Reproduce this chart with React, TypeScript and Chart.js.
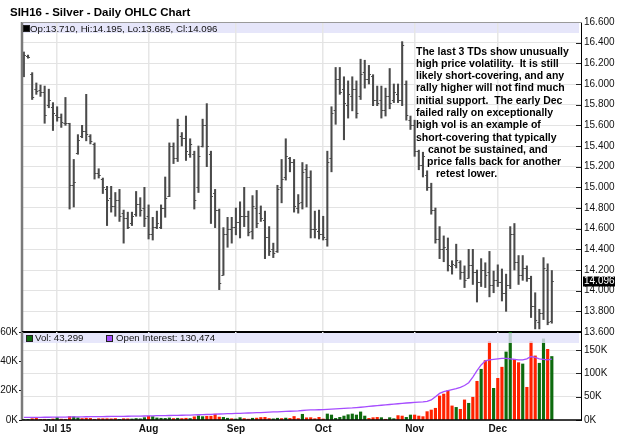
import React, { useEffect, useRef } from 'react';
import { Chart, registerables } from 'chart.js';

Chart.register(...registerables);

const FONT = 'Arial, "Liberation Sans", Helvetica, sans-serif';

// Daily OHLC, Jun 19 2015 .. Dec 18 2015 (trading-day index 0..127)
const highs = [
  16.31, 16.28, 16.11, 16.01, 15.99, 15.98, 15.95, 15.82, 15.78, 15.71,
  15.87, 15.62, 15.27, 15.51, 15.60, 15.90, 15.51, 15.43, 15.18, 15.09,
  15.01, 15.01, 14.95, 14.98, 14.78, 14.76, 14.76, 14.96, 14.90, 15.00,
  14.83, 14.71, 14.77, 14.83, 15.10, 15.43, 15.43, 15.66, 15.53, 15.69,
  15.47, 15.35, 15.40, 15.66, 15.81, 15.35, 14.98, 14.79, 14.61, 14.71,
  14.71, 14.80, 14.86, 15.00, 14.77, 14.92, 14.97, 14.82, 14.77, 14.62,
  14.46, 15.02, 15.27, 15.47, 15.29, 15.27, 14.93, 15.24, 15.22, 15.16,
  14.77, 14.78, 14.72, 15.35, 15.78, 16.16, 16.16, 16.07, 16.03, 16.07,
  16.03, 16.24, 16.23, 16.18, 16.09, 15.98, 15.98, 15.96, 16.15, 16.00,
  16.00, 16.41, 16.03, 15.69, 15.65, 15.36, 15.34, 15.16, 15.04, 14.80,
  14.62, 14.53, 14.51, 14.29, 14.45, 14.29, 14.24, 14.40, 14.40, 14.20,
  14.31, 14.27, 14.38, 14.19, 14.25, 14.21, 14.16, 14.62, 14.65, 14.34,
  14.34, 14.24, 14.14, 13.98, 13.82, 14.32, 14.26, 14.195,
];
const lows = [
  16.07, 16.25, 15.85, 15.90, 15.88, 15.62, 15.77, 15.55, 15.64, 15.58,
  15.60, 14.79, 14.81, 15.32, 15.48, 15.45, 15.42, 15.08, 15.09, 14.94,
  14.63, 14.76, 14.72, 14.67, 14.46, 14.60, 14.63, 14.72, 14.72, 14.62,
  14.50, 14.49, 14.60, 14.60, 14.71, 14.91, 15.23, 15.25, 15.40, 15.26,
  15.29, 14.79, 14.95, 15.39, 15.20, 14.65, 14.61, 14.01, 14.15, 14.42,
  14.46, 14.54, 14.51, 14.62, 14.53, 14.50, 14.61, 14.67, 14.31, 14.34,
  14.32, 14.37, 14.85, 15.07, 15.15, 14.76, 14.75, 14.79, 14.81, 14.51,
  14.51, 14.50, 14.49, 14.43, 15.15, 15.61, 15.90, 15.46, 15.67, 15.74,
  15.67, 15.85, 15.96, 16.00, 15.79, 15.79, 15.67, 15.69, 15.76, 15.82,
  15.82, 15.79, 15.65, 15.56, 15.30, 15.17, 15.10, 14.97, 14.74, 14.46,
  14.31, 14.28, 14.19, 14.16, 14.22, 14.11, 14.03, 14.12, 14.06, 13.89,
  14.04, 14.03, 13.94, 13.98, 14.04, 13.90, 13.80, 14.02, 14.20, 14.06,
  14.10, 14.09, 13.74, 13.63, 13.63, 13.72, 13.67, 13.685,
];
const opens = [
  16.10, 16.27, 16.10, 15.95, 15.94, 15.92, 15.80, 15.78, 15.70, 15.68,
  15.62, 15.62, 15.02, 15.33, 15.50, 15.55, 15.50, 15.42, 15.14, 15.08,
  14.98, 14.90, 14.82, 14.88, 14.75, 14.70, 14.65, 14.74, 14.84, 14.80,
  14.72, 14.55, 14.62, 14.62, 14.80, 14.92, 15.40, 15.28, 15.50, 15.48,
  15.32, 15.32, 15.00, 15.40, 15.60, 15.32, 14.95, 14.78, 14.15, 14.55,
  14.60, 14.62, 14.66, 14.72, 14.72, 14.58, 14.80, 14.75, 14.68, 14.52,
  14.40, 14.38, 15.00, 15.10, 15.28, 15.25, 14.80, 14.86, 15.18, 15.10,
  14.60, 14.58, 14.55, 14.50, 15.28, 15.75, 16.05, 15.95, 15.80, 15.88,
  15.95, 15.88, 16.12, 16.05, 16.08, 15.85, 15.85, 15.75, 15.88, 15.85,
  15.90, 15.85, 16.00, 15.65, 15.60, 15.35, 15.22, 15.12, 15.00, 14.78,
  14.50, 14.40, 14.40, 14.24, 14.25, 14.28, 14.18, 14.12, 14.25, 14.18,
  14.08, 14.20, 14.18, 14.05, 14.10, 14.08, 13.98, 14.05, 14.55, 14.28,
  14.15, 14.22, 14.12, 13.85, 13.70, 13.78, 14.20, 13.71,
];
const closes = [
  16.28, 16.26, 15.87, 15.93, 15.92, 15.70, 15.85, 15.72, 15.68, 15.63,
  15.62, 15.02, 15.05, 15.46, 15.55, 15.52, 15.45, 15.14, 15.12, 15.00,
  14.88, 14.82, 14.88, 14.72, 14.70, 14.62, 14.72, 14.84, 14.78, 14.70,
  14.55, 14.62, 14.65, 14.80, 14.90, 15.40, 15.28, 15.60, 15.48, 15.35,
  15.42, 14.88, 15.30, 15.60, 15.40, 14.92, 14.78, 14.07, 14.55, 14.60,
  14.62, 14.66, 14.72, 14.72, 14.57, 14.82, 14.65, 14.70, 14.52, 14.38,
  14.36, 14.98, 15.08, 15.30, 15.25, 14.82, 14.85, 15.15, 15.10, 14.60,
  14.60, 14.55, 14.52, 15.25, 15.72, 16.05, 15.92, 15.82, 15.90, 15.95,
  15.72, 16.10, 16.05, 16.10, 15.85, 15.82, 15.75, 15.88, 15.82, 15.92,
  15.85, 16.38, 15.70, 15.60, 15.35, 15.22, 15.30, 15.00, 14.78, 14.50,
  14.40, 14.42, 14.25, 14.26, 14.30, 14.18, 14.10, 14.25, 14.18, 14.08,
  14.20, 14.15, 14.05, 14.10, 14.08, 13.98, 14.05, 14.55, 14.28, 14.15,
  14.22, 14.12, 13.85, 13.72, 13.78, 14.22, 13.70, 14.096,
];
// Volume in thousands of contracts
const volumes = [
  0.3, 0.2, 0.9, 1.1, 0.4, 0.5, 0.4, 0.7, 1.8, 0.6,
  0.5, 2.3, 2.2, 1.5, 1.0, 1.2, 1.1, 0.5, 0.9, 0.9,
  0.9, 0.8, 1.0, 0.4, 0.9, 0.8, 0.7, 1.0, 0.8, 1.6,
  2.6, 2.3, 1.4, 1.2, 1.1, 1.4, 1.0, 1.2, 1.0, 1.2,
  1.0, 2.2, 2.8, 2.3, 2.5, 2.6, 4.0, 2.0, 1.8, 1.2,
  0.9, 0.7, 1.6, 1.0, 0.6, 1.2, 1.3, 1.7, 1.8, 1.0,
  0.8, 1.2, 1.0, 1.3, 1.1, 2.4, 1.0, 3.9, 1.5, 1.6,
  0.9, 1.8, 0.7, 4.1, 3.4, 1.1, 1.8, 2.7, 3.6, 4.1,
  3.4, 5.5, 2.7, 1.1, 1.6, 1.8, 1.6, 0.5, 1.6, 0.9,
  3.0, 2.7, 1.8, 3.4, 3.4, 2.7, 2.3, 5.7, 6.8, 8.0,
  16.4, 17.7, 20.0, 9.6, 8.6, 7.3, 13.7, 11.4, 15.5, 26.4,
  34.6, 40.5, 53.5, 21.6, 28.4, 36.0, 46.4, 66.0, 41.4, 39.1,
  38.2, 22.3, 53.5, 43.7, 38.7, 55.3, 48.2, 43.299,
];
// 1 = up day (green volume), 0 = down day (red volume)
const volUp = [
  1, 1, 0, 0, 0, 0, 1, 0, 1, 0,
  0, 0, 1, 1, 0, 0, 0, 0, 0, 0,
  0, 0, 0, 1, 0, 0, 1, 1, 1, 1,
  0, 1, 1, 1, 1, 1, 0, 1, 0, 0,
  1, 0, 1, 1, 0, 0, 0, 0, 1, 1,
  0, 1, 1, 0, 0, 1, 0, 0, 0, 0,
  1, 1, 0, 1, 0, 0, 0, 1, 0, 0,
  0, 0, 0, 1, 1, 1, 1, 1, 1, 1,
  1, 1, 1, 0, 0, 0, 1, 0, 1, 1,
  0, 0, 1, 1, 0, 0, 0, 0, 0, 0,
  0, 0, 0, 0, 1, 0, 0, 1, 0, 0,
  1, 0, 0, 1, 0, 0, 1, 1, 0, 0,
  1, 0, 0, 0, 1, 1, 0, 1,
];
// Open interest in thousands of contracts
const openInterest = [
  5.6, 5.7, 5.7, 5.8, 5.8, 5.9, 5.9, 6.0, 6.1, 6.2,
  6.3, 6.5, 6.7, 6.8, 6.9, 7.0, 7.1, 7.2, 7.3, 7.4,
  7.5, 7.6, 7.7, 7.8, 7.9, 8.0, 8.1, 8.2, 8.4, 8.6,
  8.8, 9.0, 9.2, 9.3, 9.5, 9.6, 9.8, 10.0, 10.2, 10.4,
  10.6, 10.9, 11.2, 11.5, 11.8, 12.1, 12.5, 12.9, 13.2, 13.5,
  13.8, 14.1, 14.4, 14.7, 15.0, 15.3, 15.6, 16.0, 16.4, 16.8,
  17.2, 17.6, 18.0, 18.4, 18.8, 19.2, 19.6, 20.4, 21.0, 21.5,
  21.8, 22.0, 22.3, 22.8, 23.3, 23.8, 24.3, 24.8, 25.3, 25.8,
  26.5, 27.3, 28.2, 29.2, 30.0, 30.8, 31.6, 32.4, 33.2, 34.0,
  34.8, 35.6, 36.4, 37.0, 37.6, 38.2, 38.8, 40.0, 43.0, 50.0,
  57, 61, 63, 65, 67, 70, 74, 80, 92, 106,
  118, 127, 129, 130, 131, 132, 132, 131, 130, 129,
  129, 131, 136, 134, 131, 130, 129, 130.474,
];

const monthIdx = [8, 30, 51, 72, 94, 114];
const monthLabels = ['Jul 15', 'Aug', 'Sep', 'Oct', 'Nov', 'Dec'];
const priceTicks = [13.6, 13.8, 14.0, 14.2, 14.4, 14.6, 14.8, 15.0, 15.2, 15.4, 15.6, 15.8, 16.0, 16.2, 16.4, 16.6];
const volTicks = [0, 20, 40, 60];
const oiTicks = [0, 50, 100, 150];

const noteLines = [
  'The last 3 TDs show unusually',
  'high price volatility.  It is still',
  'likely short-covering, and any',
  'rally higher will not find much',
  'initial support.  The early Dec',
  'failed rally on exceptionally',
  'high vol is an example of',
  'short-covering that typically',
  'canot be sustained, and',
  'price falls back for another',
  'retest lower.',
];
const noteIndent = [0, 0, 0, 0, 0, 0, 0, 0, 12, 11, 20];

const X_MIN = -0.45;
const X_MAX = 134.26;
const OI_MAX = 188.6;

const BAR_COLOR = '#4a4a4a';
const GRID = '#e3e3e3';
const UP_COLOR = '#0e6b0e';
const DOWN_COLOR = '#ff2200';
const OI_COLOR = '#a64dff';
const BAND = 'rgba(226,226,250,0.82)';

const last = highs.length - 1;
const fmtK = (v: number) => Math.round(v * 1000).toLocaleString('en-US');

export default function App() {
  const priceRef = useRef<HTMLCanvasElement>(null);
  const volRef = useRef<HTMLCanvasElement>(null);

  useEffect(() => {
    const idx = highs.map((_, i) => i);

    const ohlcTicks = {
      id: 'ohlcTicks',
      afterDatasetsDraw(chart: any) {
        const { ctx, scales } = chart;
        const x = scales.x;
        const y = scales.y;
        ctx.save();
        ctx.strokeStyle = BAR_COLOR;
        ctx.lineWidth = 1;
        ctx.beginPath();
        idx.forEach((i) => {
          const px = x.getPixelForValue(i);
          const yo = Math.round(y.getPixelForValue(opens[i])) + 0.5;
          const yc = Math.round(y.getPixelForValue(closes[i])) + 0.5;
          ctx.moveTo(px - 2, yo);
          ctx.lineTo(px, yo);
          ctx.moveTo(px, yc);
          ctx.lineTo(px + 2, yc);
        });
        ctx.stroke();
        ctx.restore();
      },
    };

    const priceBand = {
      id: 'priceBand',
      beforeDraw(chart: any) {
        const { ctx, chartArea } = chart;
        ctx.save();
        ctx.fillStyle = '#e6e6fa';
        ctx.fillRect(chartArea.left + 1, chartArea.top, chartArea.right - chartArea.left - 4, 11);
        ctx.restore();
      },
    };

    const volBand = {
      id: 'volBand',
      afterDatasetsDraw(chart: any) {
        const { ctx, chartArea } = chart;
        ctx.save();
        ctx.fillStyle = BAND;
        ctx.fillRect(chartArea.left + 1, chartArea.top + 1, chartArea.right - chartArea.left - 4, 10);
        ctx.restore();
      },
    };

    const innerTicks = (axisId: string) => ({
      id: 'innerTicks_' + axisId,
      afterDraw(chart: any) {
        const { ctx, chartArea } = chart;
        const s = chart.scales[axisId];
        ctx.save();
        ctx.strokeStyle = '#222';
        ctx.lineWidth = 1;
        ctx.beginPath();
        s.ticks.forEach((t: any) => {
          const yy = Math.round(s.getPixelForValue(t.value)) + 0.5;
          ctx.moveTo(chartArea.right - 6, yy);
          ctx.lineTo(chartArea.right, yy);
        });
        ctx.stroke();
        ctx.restore();
      },
    });

    const frame = (bottomWidth: number) => ({
      id: 'frame',
      afterDraw(chart: any) {
        const { ctx, chartArea } = chart;
        const { left, right, top, bottom } = chartArea;
        ctx.save();
        ctx.strokeStyle = '#7a7a7a';
        ctx.lineWidth = 2.5;
        ctx.beginPath();
        ctx.moveTo(left, top);
        ctx.lineTo(left, bottom);
        ctx.stroke();
        ctx.strokeStyle = '#000';
        ctx.lineWidth = 1;
        ctx.beginPath();
        ctx.moveTo(right - 0.5, top);
        ctx.lineTo(right - 0.5, bottom);
        ctx.stroke();
        ctx.lineWidth = bottomWidth;
        ctx.beginPath();
        ctx.moveTo(left, bottom);
        ctx.lineTo(right, bottom);
        ctx.stroke();
        ctx.restore();
      },
    });

    const topLine = {
      id: 'topLine',
      afterDraw(chart: any) {
        const { ctx, chartArea } = chart;
        ctx.save();
        ctx.strokeStyle = '#9a9a9a';
        ctx.lineWidth = 1;
        ctx.beginPath();
        ctx.moveTo(chartArea.left, chartArea.top + 0.5);
        ctx.lineTo(chartArea.right, chartArea.top + 0.5);
        ctx.stroke();
        ctx.restore();
      },
    };

    const lastLabel = {
      id: 'lastLabel',
      afterDraw(chart: any) {
        const { ctx, chartArea } = chart;
        const y = chart.scales.y;
        const py = y.getPixelForValue(closes[last]);
        ctx.save();
        ctx.fillStyle = '#000';
        ctx.fillRect(chartArea.right + 1, Math.round(py) - 4.5, 32, 10);
        ctx.fillStyle = '#fff';
        ctx.font = '10px ' + FONT;
        ctx.textBaseline = 'middle';
        ctx.textAlign = 'left';
        ctx.fillText(closes[last].toFixed(3), chartArea.right + 2, Math.round(py) + 0.5);
        ctx.restore();
      },
    };

    const xScaleBase = {
      type: 'linear',
      min: X_MIN,
      max: X_MAX,
      offset: false,
      afterBuildTicks: (s: any) => {
        s.ticks = monthIdx.map((v) => ({ value: v }));
      },
      grid: { color: '#e6e6e6', lineWidth: 1.5, drawTicks: false, offset: false },
      border: { display: false },
    };

    const pc = new Chart(priceRef.current as HTMLCanvasElement, {
      type: 'bar',
      data: {
        datasets: [
          {
            data: idx.map((i) => ({ x: i, y: [lows[i], highs[i]] })) as any,
            backgroundColor: BAR_COLOR,
            barThickness: 1.4,
            grouped: false,
          } as any,
        ],
      },
      options: {
        animation: false,
        responsive: false,
        maintainAspectRatio: false,
        events: [],
        layout: { padding: { left: 22, top: 22, right: 0, bottom: 107 } },
        plugins: { legend: { display: false }, tooltip: { enabled: false } },
        scales: {
          x: {
            ...xScaleBase,
            ticks: { display: false },
            afterFit: (s: any) => {
              s.height = 0;
            },
          } as any,
          y: {
            type: 'linear',
            position: 'right',
            min: 13.6,
            max: 16.6,
            afterBuildTicks: (s: any) => {
              s.ticks = priceTicks.map((v) => ({ value: v }));
            },
            ticks: {
              callback: (v: any) => Number(v).toFixed(3),
              font: { size: 10, family: FONT },
              color: '#111',
              padding: 2,
            },
            grid: { color: GRID, drawTicks: false },
            border: { display: false },
            afterFit: (s: any) => {
              s.width = 38;
            },
          } as any,
        },
      },
      plugins: [priceBand, ohlcTicks, innerTicks('y'), frame(2), topLine, lastLabel],
    });

    const vc = new Chart(volRef.current as HTMLCanvasElement, {
      type: 'bar',
      data: {
        datasets: [
          {
            type: 'line',
            data: idx.map((i) => ({ x: i, y: openInterest[i] })),
            yAxisID: 'oi',
            borderColor: OI_COLOR,
            borderWidth: 1.3,
            pointRadius: 0,
            tension: 0,
            order: 0,
          } as any,
          {
            type: 'bar',
            data: idx.map((i) => ({ x: i, y: volumes[i] })),
            yAxisID: 'vol',
            backgroundColor: idx.map((i) => (volUp[i] ? UP_COLOR : DOWN_COLOR)),
            barThickness: 2.5,
            grouped: false,
            order: 1,
          } as any,
        ],
      },
      options: {
        animation: false,
        responsive: false,
        maintainAspectRatio: false,
        events: [],
        layout: { padding: { left: 0, top: 332, right: 0, bottom: 0 } },
        plugins: { legend: { display: false }, tooltip: { enabled: false } },
        scales: {
          x: {
            ...xScaleBase,
            ticks: {
              autoSkip: false,
              maxRotation: 0,
              callback: (v: any) => {
                const k = monthIdx.indexOf(Number(v));
                return k >= 0 ? monthLabels[k] : '';
              },
              font: { size: 10, weight: 'bold', family: FONT },
              color: '#111',
              padding: 3,
            },
            afterFit: (s: any) => {
              s.height = 19;
            },
          } as any,
          vol: {
            type: 'linear',
            position: 'left',
            min: 0,
            max: 60,
            afterBuildTicks: (s: any) => {
              s.ticks = volTicks.map((v) => ({ value: v }));
            },
            ticks: {
              callback: (v: any) => `${v}K`,
              font: { size: 10, family: FONT },
              color: '#111',
              padding: 1,
            },
            grid: { drawOnChartArea: false, drawTicks: true, tickLength: 3, tickColor: '#111' },
            border: { display: false },
            afterFit: (s: any) => {
              s.width = 22;
            },
          } as any,
          oi: {
            type: 'linear',
            position: 'right',
            min: 0,
            max: OI_MAX,
            afterBuildTicks: (s: any) => {
              s.ticks = oiTicks.map((v) => ({ value: v }));
            },
            ticks: {
              callback: (v: any) => `${v}K`,
              font: { size: 10, family: FONT },
              color: '#111',
              padding: 2,
            },
            grid: { color: GRID, drawTicks: false },
            border: { display: false },
            afterFit: (s: any) => {
              s.width = 38;
            },
          } as any,
        },
      },
      plugins: [volBand, innerTicks('oi'), frame(1.5)],
    });

    return () => {
      pc.destroy();
      vc.destroy();
    };
  }, []);

  const sq = (color: string, left: number, top: number) => (
    <div
      style={{
        position: 'absolute',
        left,
        top,
        width: 5,
        height: 5,
        background: color,
        border: '0.5px solid #222',
      }}
    />
  );

  const priceLegend = `Op:${opens[last].toFixed(3)}, Hi:${highs[last].toFixed(3)}, Lo:${lows[last].toFixed(3)}, Cl:${closes[last].toFixed(3)}`;

  return (
    <div
      style={{
        position: 'absolute',
        left: 0,
        top: 0,
        width: 620,
        height: 439,
        background: '#fff',
        overflow: 'hidden',
        fontFamily: FONT,
        color: '#000',
      }}
    >
      <canvas ref={priceRef} width={620} height={439} style={{ position: 'absolute', left: 0, top: 0, width: 620, height: 439 }} />
      <canvas ref={volRef} width={620} height={439} style={{ position: 'absolute', left: 0, top: 0, width: 620, height: 439 }} />

      <div style={{ position: 'absolute', left: 10, top: 5, fontSize: 11.5, fontWeight: 'bold', lineHeight: '15px', whiteSpace: 'nowrap' }}>
        SIH16 - Silver - Daily OHLC Chart
      </div>

      {sq('#000', 23, 25)}
      <div style={{ position: 'absolute', left: 30, top: 22.5, fontSize: 9.7, lineHeight: '12px', whiteSpace: 'nowrap', color: '#111' }}>
        {priceLegend}
      </div>

      {sq(UP_COLOR, 26, 334.5)}
      <div style={{ position: 'absolute', left: 35, top: 332, fontSize: 9.7, lineHeight: '12px', whiteSpace: 'nowrap', color: '#111' }}>
        {`Vol: ${fmtK(volumes[last])}`}
      </div>
      {sq(OI_COLOR, 106, 334.5)}
      <div style={{ position: 'absolute', left: 116, top: 332, fontSize: 9.7, lineHeight: '12px', whiteSpace: 'nowrap', color: '#111' }}>
        {`Open Interest: ${fmtK(openInterest[last])}`}
      </div>

      <div style={{ position: 'absolute', left: 416, top: 44.5, fontSize: 10.5, fontWeight: 'bold', lineHeight: '12.3px', whiteSpace: 'pre' }}>
        {noteLines.map((t, i) => (
          <div key={i} style={{ paddingLeft: noteIndent[i] }}>
            {t}
          </div>
        ))}
      </div>
    </div>
  );
}
